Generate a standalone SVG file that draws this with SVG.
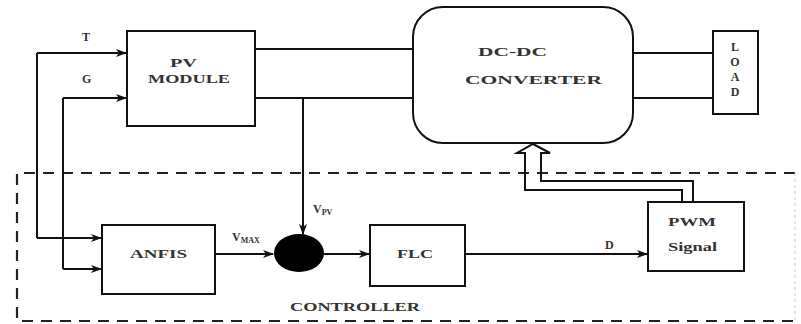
<svg xmlns="http://www.w3.org/2000/svg" width="801" height="324" viewBox="0 0 801 324">
<style>
.box{fill:#fff;stroke:#111;stroke-width:2}
.w{fill:none;stroke:#111;stroke-width:2}
.t{font-family:"Liberation Serif","Times New Roman",serif;font-weight:bold;font-size:12px;fill:#333}
.s{font-size:8px}
</style>
<defs>
<marker id="ah" markerUnits="userSpaceOnUse" markerWidth="11" markerHeight="8" refX="10" refY="4" orient="auto">
<path d="M0,0 L11,4 L0,8 L3,4 z" fill="#111"/>
</marker>
</defs>
<rect width="801" height="324" fill="#fff"/>
<g id="controller">
<path d="M795,173 H17 V321 H795" fill="none" stroke="#222" stroke-width="2.2" stroke-dasharray="11 8"/>
<path d="M795,173 V321" fill="none" stroke="#ccc" stroke-width="1" stroke-dasharray="3 3"/>
<text class="t" x="290" y="311" textLength="130" lengthAdjust="spacingAndGlyphs">CONTROLLER</text>
</g>
<g id="connectors">
<path class="w" d="M37,53 V238"/>
<path class="w" d="M37,53 H126" marker-end="url(#ah)"/>
<path class="w" d="M37,238 H101" marker-end="url(#ah)"/>
<path class="w" d="M63,98 V269"/>
<path class="w" d="M63,98 H126" marker-end="url(#ah)"/>
<path class="w" d="M63,269 H101" marker-end="url(#ah)"/>
<path class="w" d="M255,49 H413"/>
<path class="w" d="M255,98 H413"/>
<path class="w" d="M303,98 V234" marker-end="url(#ah)"/>
<path class="w" d="M215,254 H273" marker-end="url(#ah)"/>
<path class="w" d="M324,254 H369" marker-end="url(#ah)"/>
<path class="w" d="M465,254 H647" marker-end="url(#ah)"/>
<path class="w" d="M633,53 H713"/>
<path class="w" d="M633,98 H713"/>
<path class="w" d="M682,202 V190 H525 V153 H517 L533,144 L550,153 H541 V181 H693 V202"/>
<text class="t" x="82" y="41">T</text>
<text class="t" x="82" y="83">G</text>
<text class="t" x="232" y="241">V<tspan class="s" dy="2">MAX</tspan></text>
<text class="t" x="313" y="213">V<tspan class="s" dy="2">PV</tspan></text>
<text class="t" x="605" y="249">D</text>
</g>
<g id="pv">
<rect class="box" x="127" y="31" width="128" height="95"/>
<text class="t" x="170" y="67" textLength="27" lengthAdjust="spacingAndGlyphs">PV</text>
<text class="t" x="148" y="83" textLength="82" lengthAdjust="spacingAndGlyphs">MODULE</text>
</g>
<g id="converter">
<rect class="box" x="413" y="7" width="220" height="136" rx="30"/>
<text class="t" x="478" y="56" textLength="69" lengthAdjust="spacingAndGlyphs" font-size="13">DC-DC</text>
<text class="t" x="465" y="84" textLength="137" lengthAdjust="spacingAndGlyphs" font-size="13">CONVERTER</text>
</g>
<g id="load">
<rect class="box" x="713" y="31" width="45" height="83"/>
<text class="t" x="735" y="51" text-anchor="middle">L</text>
<text class="t" x="735" y="66" text-anchor="middle">O</text>
<text class="t" x="735" y="81" text-anchor="middle">A</text>
<text class="t" x="735" y="96" text-anchor="middle">D</text>
</g>
<g id="anfis">
<rect class="box" x="102" y="225" width="113" height="69"/>
<text class="t" x="130" y="258" textLength="57" lengthAdjust="spacingAndGlyphs">ANFIS</text>
</g>
<g id="sum">
<ellipse cx="299" cy="253" rx="25" ry="19" fill="#000"/>
</g>
<g id="flc">
<rect class="box" x="370" y="225" width="95" height="61"/>
<text class="t" x="397" y="258" textLength="36" lengthAdjust="spacingAndGlyphs">FLC</text>
</g>
<g id="pwm">
<rect class="box" x="648" y="202" width="96" height="69"/>
<text class="t" x="668" y="226" textLength="48" lengthAdjust="spacingAndGlyphs">PWM</text>
<text class="t" x="668" y="251" textLength="49" lengthAdjust="spacingAndGlyphs">Signal</text>
</g>
</svg>
